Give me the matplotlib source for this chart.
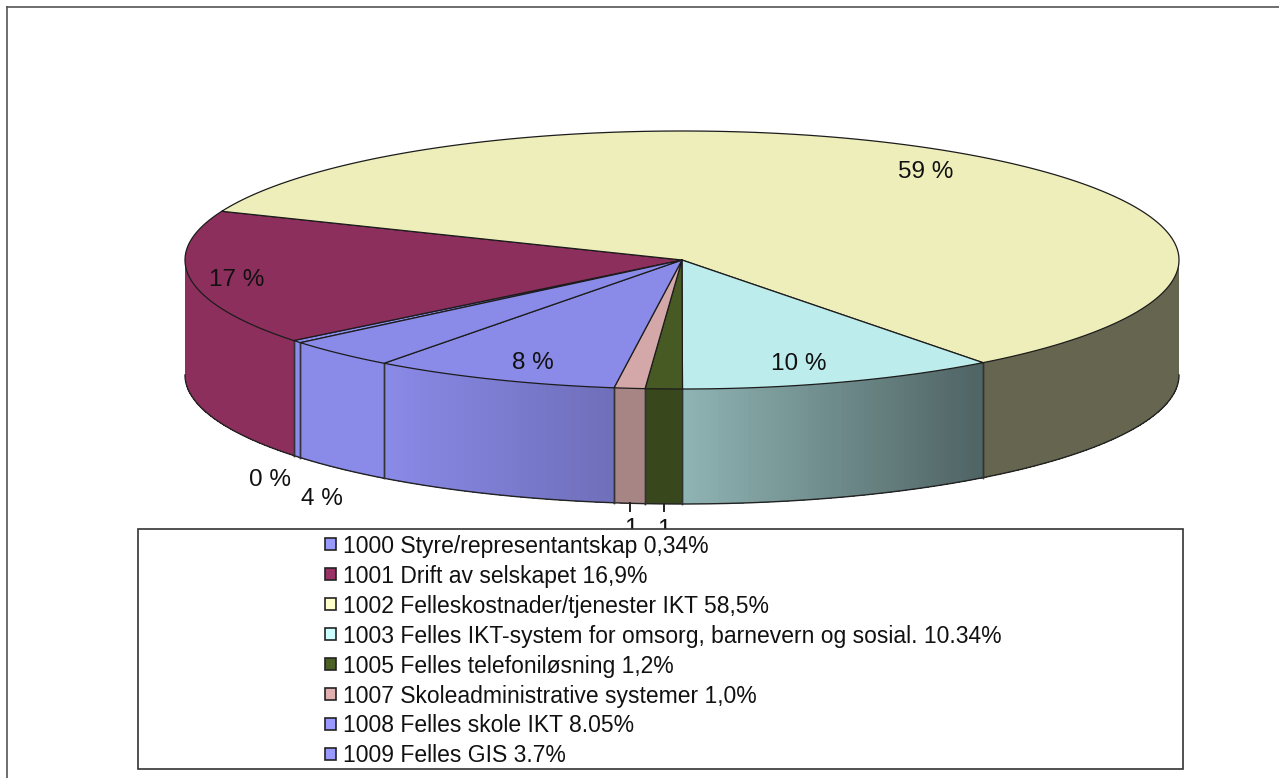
# -*- coding: utf-8 -*-
import numpy as np
import matplotlib
matplotlib.use('Agg')
import matplotlib.pyplot as plt
from matplotlib.colors import to_rgb
from matplotlib.patches import Polygon, Rectangle

plt.rcParams['font.family'] = ['Liberation Sans', 'DejaVu Sans']

# data
names = ['1000 Styre/representantskap 0,34%',
         '1001 Drift av selskapet 16,9%',
         '1002 Felleskostnader/tjenester IKT 58,5%',
         '1003 Felles IKT-system for omsorg, barnevern og sosial. 10.34%',
         '1005 Felles telefoniløsning 1,2%',
         '1007 Skoleadministrative systemer 1,0%',
         '1008 Felles skole IKT 8.05%',
         '1009 Felles GIS 3.7%']
values = [0.34, 16.9, 58.5, 10.34, 1.2, 1.0, 8.05, 3.7]
top_colors = ['#8c8cee', '#8c2f5c', '#eeeebb', '#bcecec', '#475a24', '#d4a8a8', '#8a8ae8', '#8a8ae8']
key_colors = ['#9999ff', '#993366', '#ffffcc', '#ccffff', '#4d6126', '#e0b0b0', '#9999ff', '#9999ff']
# how dark the side wall gets at start and end of each slice
shade_a = [1.0, 1.0, 0.43, 0.42, 0.79, 0.79, 0.80, 1.0]
shade_b = [1.0, 1.0, 0.43, 0.76, 0.79, 0.79, 1.0, 1.0]
label_pos = [(270, 480), (237, 280), (926, 172), (799, 364), (664, 530), (631, 529), (533, 363), (322, 499)]

# pie geometry in pixels
cx, cy = 682, 260
rx, ry = 497, 129
depth = 115
start = 140.15

fig = plt.figure(figsize=(12.79, 7.78), dpi=100)
ax = fig.add_axes([0, 0, 1, 1])
ax.set_xlim(0, 1279)
ax.set_ylim(778, 0)
ax.axis('off')

# outer frame, only left and top show
ax.plot([7, 7], [778, 7], color='#555555', lw=1.2)
ax.plot([7, 1279], [7, 7], color='#555555', lw=1.2)


def ell(t):
    t = np.radians(t)
    return cx + rx * np.cos(t), cy + ry * np.sin(t)


spans = 360 * np.array(values) / sum(values)
edges = start + np.concatenate([[0], np.cumsum(spans)])

# side walls
for i in range(len(values)):
    base = np.array(to_rgb(top_colors[i]))
    for off in (0, -360):
        a0 = edges[i] + off
        b0 = edges[i + 1] + off
        lo = max(a0, 0)
        hi = min(b0, 180)
        if hi <= lo:
            continue
        steps = max(2, int((hi - lo) * 2))
        ts = np.linspace(lo, hi, steps + 1)
        xa, ya = ell(a0)
        xb, yb = ell(b0)
        for k in range(steps):
            x1, y1 = ell(ts[k])
            x2, y2 = ell(ts[k + 1])
            frac = ((x1 + x2) / 2 - xa) / (xb - xa) if xb != xa else 0
            c = base * (shade_a[i] + (shade_b[i] - shade_a[i]) * frac)
            ax.add_patch(Polygon([(x1, y1), (x2, y2), (x2, y2 + depth), (x1, y1 + depth)],
                                 facecolor=c, edgecolor='none', antialiased=False, zorder=2))
        # wall edges
        ts = np.linspace(lo, hi, steps * 3 + 1)
        x, y = ell(ts)
        ax.plot(x, y + depth, color='#222222', lw=1.0, zorder=3)
        for t in (lo, hi):
            if 0 < t < 180:
                x1, y1 = ell(t)
                ax.plot([x1, x1], [y1, y1 + depth], color='#333333', lw=1.0, zorder=3)

# top of the pie
for i in range(len(values)):
    ts = np.linspace(edges[i], edges[i + 1], max(3, int(spans[i] * 3)))
    x, y = ell(ts)
    pts = np.column_stack([np.r_[cx, x], np.r_[cy, y]])
    ax.add_patch(Polygon(pts, closed=True, facecolor=top_colors[i], edgecolor='#1c1c1c',
                         lw=0.9, joinstyle='round', zorder=4))

# leader lines for the two small slices
for i in (4, 5):
    xm, ym = ell((edges[i] + edges[i + 1]) / 2)
    ax.plot([xm, xm], [ym + depth, 511], color='#222222', lw=1.4, zorder=3)

# data labels
for i in range(len(values)):
    v = int(values[i] + 0.5)
    s = '%d %%' % v
    if v == 1:
        s = '1'
    ax.text(label_pos[i][0], label_pos[i][1], s, fontsize=17.5, ha='center', va='center',
            color='#111111', zorder=5)

# legend
ax.add_patch(Rectangle((138, 529), 1045, 240, facecolor='white', edgecolor='#333333', lw=1.2, zorder=6))
for i in range(len(names)):
    y = 544 + 30 * i
    ax.add_patch(Rectangle((325, y - 6), 11, 12, facecolor=key_colors[i], edgecolor='#222222', lw=1.2, zorder=7))
    ax.text(343, y + 2, names[i], fontsize=16.5, ha='left', va='center', color='#111111', zorder=7)

fig.savefig('out.png', dpi=100)
